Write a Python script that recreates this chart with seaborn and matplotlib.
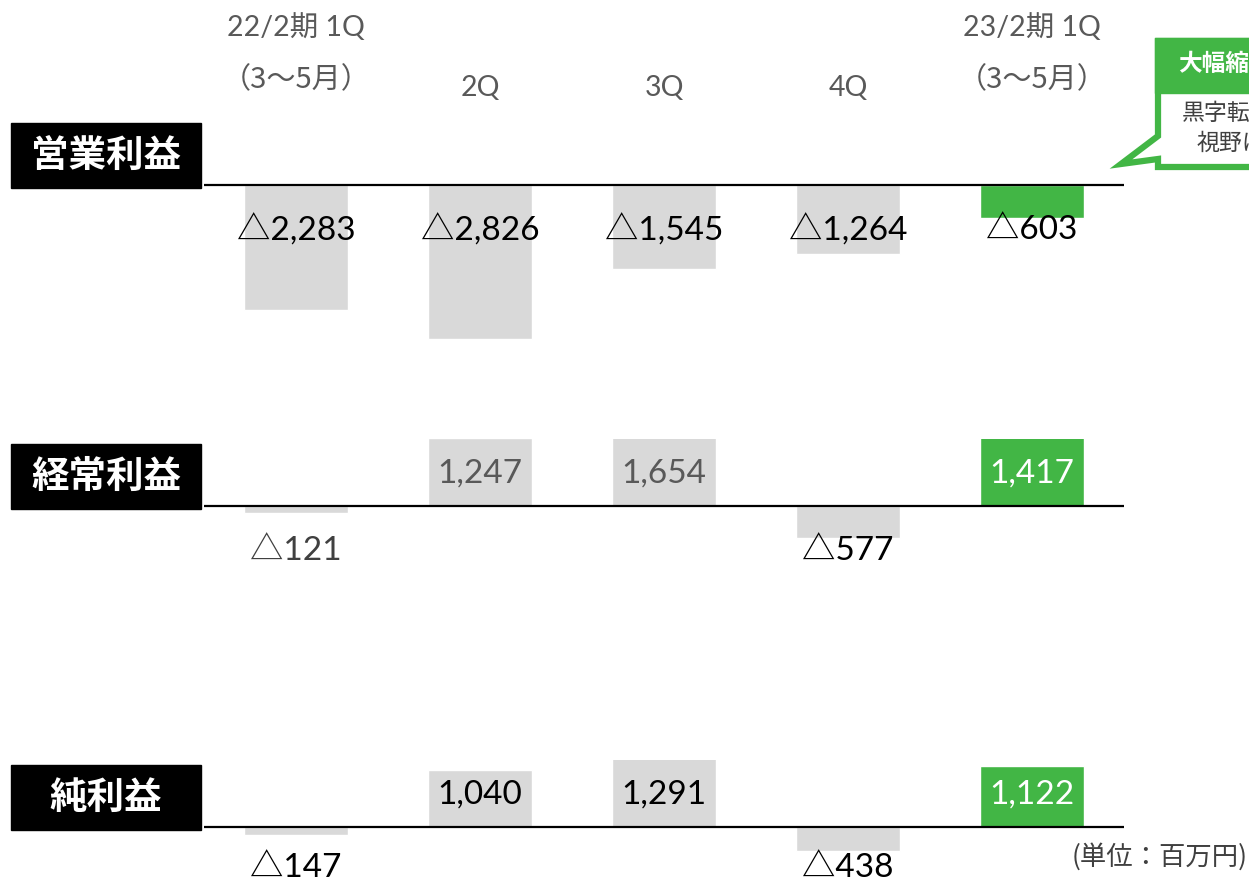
import matplotlib
matplotlib.use("Agg")
import matplotlib.pyplot as plt
import seaborn as sns
import pandas as pd
from matplotlib.patches import Rectangle, Polygon

# Quarterly results (millions of yen)
quarters = ["22/2期 1Q", "2Q", "3Q", "4Q", "23/2期 1Q"]
quarter_sub = ["（3～5月）", "", "", "", "（3～5月）"]
operating_profit = [-2283, -2826, -1545, -1264, -603]
ordinary_profit = [-121, 1247, 1654, -577, 1417]
net_profit = [-147, 1040, 1291, -438, 1122]
panel_titles = ["営業利益", "経常利益", "純利益"]
period_group = ["prev", "prev", "prev", "prev", "cur"]

GREY = "#D9D9D9"
GREEN = "#42B645"
TXT_GREY = "#595959"

sns.set_theme(style="white")
plt.rcParams["font.family"] = ["Lato", "Noto Sans CJK JP", "DejaVu Sans"]
CJK = ["Noto Sans CJK JP", "DejaVu Sans"]

W, H = 1249, 884
fig = plt.figure(figsize=(W / 100, H / 100), dpi=100)


def fx(px):
    return px / W


def fy(py):
    return 1 - py / H


PX_PER_UNIT = 0.0546
Y_TOP = 1230

# title, values, baseline (px from top), axis floor, label colours, negative label offset
panels = [
    (panel_titles[0], operating_profit, 185, -3000,
     ["black"] * 5, -830),
    (panel_titles[1], ordinary_profit, 506, -1000,
     ["#404040", TXT_GREY, TXT_GREY, "black", "white"], -830),
    (panel_titles[2], net_profit, 827, -1000,
     ["black", "black", "black", "black", "white"], -760),
]

for title, values, base_px, y_min, label_colors, neg_y in panels:
    top_px = base_px - Y_TOP * PX_PER_UNIT
    bottom_px = base_px - y_min * PX_PER_UNIT
    ax = fig.add_axes([fx(204), fy(bottom_px), fx(1124) - fx(204),
                       (bottom_px - top_px) / H])
    df = pd.DataFrame({"quarter": quarters, "value": values,
                       "group": period_group})
    sns.barplot(data=df, x="quarter", y="value", hue="group",
                palette={"prev": GREY, "cur": GREEN}, dodge=False,
                width=0.57, saturation=1, legend=False, ax=ax)
    ax.set_xlim(-0.5, 4.5)
    ax.set_ylim(y_min, Y_TOP)
    ax.axis("off")
    ax.axhline(0, color="black", lw=1.6, zorder=3)

    for i, v in enumerate(values):
        if v < 0:
            txt, ypos = "△{:,}".format(abs(v)), neg_y
        else:
            txt, ypos = "{:,}".format(v), 600
        ax.text(i, ypos, txt, ha="center", va="center", fontsize=24,
                color=label_colors[i], clip_on=False, zorder=4)

    # black title tag at the left of each panel
    fig.add_artist(Rectangle((fx(11), fy(base_px + 3)), 190 / W, 65 / H,
                             transform=fig.transFigure, color="black"))
    fig.text(fx(106), fy(base_px - 30), title, ha="center", va="center",
             fontsize=27, fontweight="bold", color="white", family=CJK)

# quarter headers along the top
for i, (q, sub) in enumerate(zip(quarters, quarter_sub)):
    cx = 296 + 184 * i
    if sub:
        fig.text(fx(cx), fy(27), q, ha="center", va="center",
                 fontsize=20.5, color=TXT_GREY)
        fig.text(fx(cx), fy(80), sub, ha="center", va="center",
                 fontsize=21, color=TXT_GREY, family=CJK)
    else:
        fig.text(fx(cx), fy(88), q, ha="center", va="center",
                 fontsize=20.5, color=TXT_GREY)

# callout at the top right
callout = Polygon([(fx(1158), fy(41)), (fx(1320), fy(41)), (fx(1320), fy(167)),
                   (fx(1158), fy(167)), (fx(1158), fy(159)), (fx(1121), fy(164)),
                   (fx(1158), fy(136))],
                  closed=True, transform=fig.transFigure, facecolor="white",
                  edgecolor=GREEN, lw=4.5, joinstyle="miter")
fig.add_artist(callout)
fig.add_artist(Rectangle((fx(1155), fy(93)), 170 / W, 55 / H,
                         transform=fig.transFigure, color=GREEN))
fig.text(fx(1178), fy(64), "大幅縮小", ha="left", va="center", fontsize=17,
         fontweight="bold", color="white", family=CJK)
fig.text(fx(1182), fy(113), "黒字転換", ha="left", va="center", fontsize=16.5,
         color="#404040", family=CJK)
fig.text(fx(1197), fy(143), "視野に", ha="left", va="center", fontsize=16.5,
         color="#404040", family=CJK)

# unit note
fig.text(fx(1248), fy(857), "(単位：百万円)", ha="right", va="center",
         fontsize=19, color="#404040", family=CJK)

fig.savefig("out.png", dpi=100)
